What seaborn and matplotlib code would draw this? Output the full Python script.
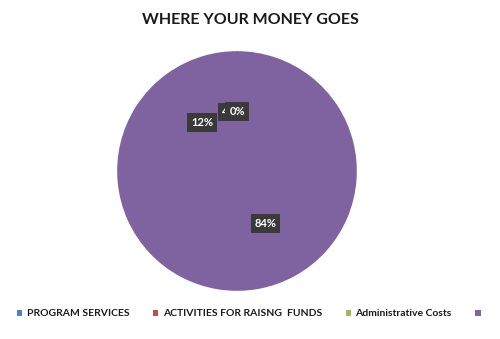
import matplotlib
matplotlib.use("Agg")
import matplotlib.pyplot as plt
from matplotlib.patches import Patch
import seaborn as sns

# Data
categories = ["PROGRAM SERVICES", "ACTIVITIES FOR RAISNG  FUNDS", "Administrative Costs", ""]
values = [84, 12, 4, 0]
legend_colors = ["#4F81BD", "#C0504D", "#9BBB59", "#8064A2"]
wedge_color = "#7F63A1"

sns.set_theme(style="white")
plt.rcParams["font.family"] = ["Lato", "DejaVu Sans"]

fig = plt.figure(figsize=(5.0, 3.39), dpi=100)
fig.patch.set_facecolor("white")

R = 119
cx, cy = 237, 171
ax = fig.add_axes([(cx - R) / 500, (339 - cy - R) / 339, 2 * R / 500, 2 * R / 339])

wedges, texts, autotexts = ax.pie(
    values,
    colors=[wedge_color] * len(values),
    startangle=90,
    counterclock=False,
    autopct="%.0f%%",
    pctdistance=0.5,
    wedgeprops=dict(linewidth=1.2, edgecolor=wedge_color),
)
for t in autotexts:
    t.set_color("white")
    t.set_fontweight("bold")
    t.set_fontsize(8)
    t.set_bbox(dict(boxstyle="square,pad=0.35", facecolor="#3a3a3a", edgecolor="none"))
ax.set_xlim(-1, 1)
ax.set_ylim(-1, 1)
ax.set_aspect("equal")
ax.axis("off")

fig.text(0.5, 1 - 20 / 339, "WHERE YOUR MONEY GOES", ha="center", va="center",
         fontsize=11.5, fontweight="bold", color="#1a1a1a")

handles = [Patch(facecolor=c, edgecolor="none") for c in legend_colors]
leg = fig.legend(handles, categories, loc="center", bbox_to_anchor=(0.502, 1 - 314 / 339),
                 ncol=4, frameon=False, handlelength=0.5, handleheight=0.5,
                 handletextpad=0.4, columnspacing=2.3,
                 prop=dict(size=7.5, weight="bold"))
for t in leg.get_texts():
    t.set_color("#1a1a1a")

fig.savefig("out.png", dpi=100, facecolor="white")
